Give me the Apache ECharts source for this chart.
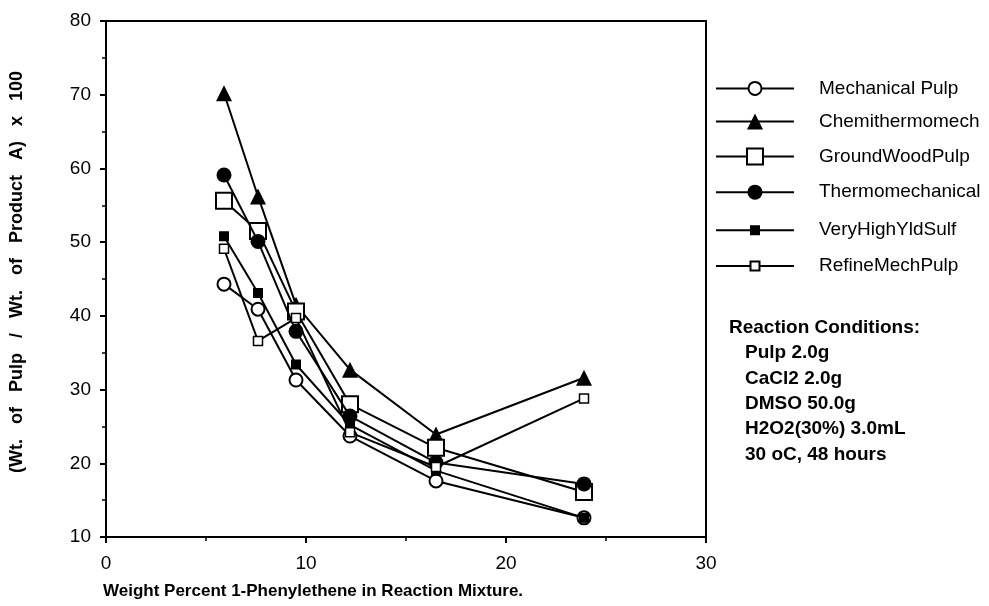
<!DOCTYPE html>
<html><head><meta charset="utf-8">
<script src="https://cdn.jsdelivr.net/npm/echarts@6/dist/echarts.min.js"></script>
<style>html,body{margin:0;padding:0;background:#fff}#c{width:989px;height:606px}</style>
</head><body><div id="c"></div>
<script>
// ---- data ----
const xValues = [5.9, 7.6, 9.5, 12.2, 16.5, 23.9];
const mechanicalPulp   = [44.3, 40.9, 31.3, 23.7, 17.6, 12.6];
const chemithermomech  = [70.2, 56.2, 41.5, 32.7, 23.9, 31.6];
const groundWoodPulp   = [55.6, 51.5, 40.6, 28.0, 22.1, 16.1];
const thermomechanical = [59.1, 50.1, 37.9, 26.4, 20.1, 17.2];
const veryHighYldSulf  = [50.8, 43.1, 33.4, 25.2, 19.0, 12.6];
const refineMechPulp   = [49.1, 36.6, 39.7, 24.2, 19.5, 28.8];
const seriesNames = ['Mechanical Pulp','Chemithermomech','GroundWoodPulp','Thermomechanical','VeryHighYldSulf','RefineMechPulp'];
const xTicks = [0, 10, 20, 30];
const yTicks = [10, 20, 30, 40, 50, 60, 70, 80];
const conditionLines = ['Reaction Conditions:', 'Pulp 2.0g', 'CaCl2 2.0g', 'DMSO 50.0g', 'H2O2(30%) 3.0mL', '30 oC, 48 hours'];
const xTitle = 'Weight Percent 1-Phenylethene in Reaction Mixture.';
const yTitle = '(Wt.   of   Pulp   /   Wt.   of   Product   A)   x   100';

// ---- styling ----
const valueSets = [mechanicalPulp, chemithermomech, groundWoodPulp, thermomechanical, veryHighYldSulf, refineMechPulp];
const styles = [
  {symbol:'circle',   size:13, fill:'#fff', bw:2},
  {symbol:'triangle', size:16, fill:'#000', bw:0},
  {symbol:'rect',     size:16, fill:'#fff', bw:2},
  {symbol:'circle',   size:15, fill:'#000', bw:0},
  {symbol:'rect',     size:10, fill:'#000', bw:0},
  {symbol:'rect',     size:9,  fill:'#fff', bw:1.5}
];
const legendRows = [87, 122, 157, 192, 227, 262];
const FONT = 'Liberation Sans, Arial, Helvetica, sans-serif';

const series = valueSets.map((vals, i) => ({
  name: seriesNames[i],
  type: 'line',
  data: xValues.map((x, j) => [x, vals[j]]),
  symbol: styles[i].symbol,
  symbolSize: styles[i].size,
  showAllSymbol: true,
  lineStyle: {color:'#000', width:2},
  itemStyle: {color: styles[i].fill, borderColor:'#000', borderWidth: styles[i].bw, opacity:1},
  emphasis: {disabled:true},
  animation: false,
  z: 2 + i * 0.01
}));

const legends = seriesNames.map((n, i) => {
  const ih = styles[i].size / 0.8;
  return {
    data: [n],
    orient: 'vertical',
    left: 715,
    top: legendRows[i] - ih / 2,
    padding: 0,
    itemWidth: 78,
    itemHeight: ih,
    selectedMode: false,
    textStyle: {fontFamily: FONT, fontSize: 19, color:'#000', padding:[0,0,0,20]}
  };
});

const graphics = conditionLines.map((t, i) => ({
  type: 'text',
  left: i === 0 ? 729 : 745,
  top: 328 + i * 25.4 - 10,
  style: {text: t, fill:'#000', font: 'bold 19px ' + FONT}
}));
graphics.push({
  type: 'text', left: 103, top: 583,
  style: {text: xTitle, fill:'#000', font: 'bold 17px ' + FONT}
});

const chart = echarts.init(document.getElementById('c'));
chart.setOption({
  animation: false,
  backgroundColor: '#fff',
  grid: {left:105, right:283, top:21, bottom:69, show:true, borderColor:'#000', borderWidth:2, backgroundColor:'transparent'},
  legend: legends,
  xAxis: {
    type:'value', min: xTicks[0], max: xTicks[xTicks.length-1], interval: 10,
    axisLine: {show:true, lineStyle:{color:'#000', width:2}},
    axisTick: {show:true, inside:false, length:6, lineStyle:{color:'#000', width:2}},
    minorTick: {show:true, splitNumber:2, length:4, lineStyle:{color:'#000', width:1.5}},
    splitLine: {show:false},
    axisLabel: {color:'#000', fontFamily: FONT, fontSize:19, margin:17}
  },
  yAxis: {
    type:'value', min: yTicks[0], max: yTicks[yTicks.length-1], interval: 10,
    axisLine: {show:true, lineStyle:{color:'#000', width:2}},
    axisTick: {show:true, inside:false, length:6, lineStyle:{color:'#000', width:2}},
    minorTick: {show:true, splitNumber:2, length:4, lineStyle:{color:'#000', width:1.5}},
    splitLine: {show:false},
    axisLabel: {color:'#000', fontFamily: FONT, fontSize:19, margin:15},
    name: yTitle, nameLocation:'middle', nameRotate:90, nameGap:80,
    nameTextStyle: {color:'#000', fontFamily: FONT, fontSize:18, fontWeight:'bold', padding:[0,0,0,14]}
  },
  graphic: graphics,
  series: series
});
</script></body></html>
